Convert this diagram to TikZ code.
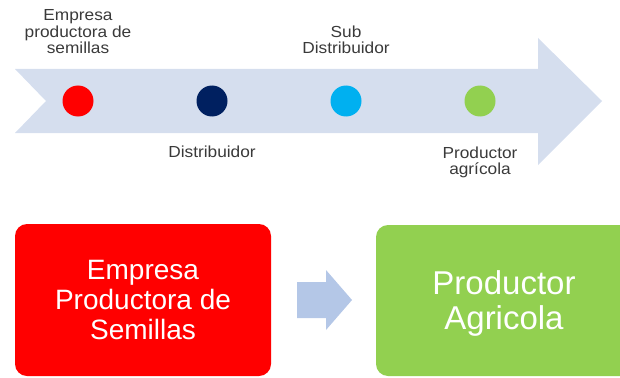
\documentclass[tikz,border=0pt]{standalone}
\usepackage{fontspec}
\setmainfont{Liberation Sans}
\newfontfamily\widesans[FakeStretch=1.08]{Liberation Sans}
\definecolor{bandcol}{HTML}{D5DEEE}
\definecolor{chevcol}{HTML}{B4C7E7}
\definecolor{redc}{HTML}{FF0000}
\definecolor{navyc}{HTML}{002060}
\definecolor{cyanc}{HTML}{00B0F0}
\definecolor{greenc}{HTML}{92D050}
\definecolor{labelc}{HTML}{3A3A3A}
\begin{document}
\begin{tikzpicture}[x=1pt,y=-1pt,
  dot/.style={circle,minimum size=31pt,inner sep=0pt,draw=none},
  toplabel/.style={anchor=north,inner sep=0pt,align=center,text=labelc,font=\widesans\fontsize{16}{16.5}\selectfont},
  bigbox/.style={rounded corners=12pt,draw=none,inner sep=0pt},
  boxtext/.style={anchor=north,inner sep=0pt,align=center,text=white}]
\useasboundingbox (0,0) rectangle (620,377);
\clip (0,0) rectangle (620,377);
% big arrow band
\fill[bandcol] (15,69) -- (538,69) -- (538,38) -- (602,101) -- (538,165) -- (538,133) -- (15,133) -- (46,101) -- cycle;
% dots
\node[dot,fill=redc] (d1) at (78,101) {};
\node[dot,fill=navyc] (d2) at (212,101) {};
\node[dot,fill=cyanc] (d3) at (346,101) {};
\node[dot,fill=greenc] (d4) at (480,101) {};
% labels
\node[toplabel] (l1) at (78,9.5) {Empresa\\productora de\\semillas};
\node[toplabel] (l2) at (212,145.5) {Distribuidor};
\node[toplabel] (l3) at (346,25.5) {Sub\\Distribuidor};
\node[toplabel] (l4) at (480,146.5) {Productor\\agrícola};
% bottom boxes
\node[bigbox,fill=redc,minimum width=256pt,minimum height=152pt] (b1) at (143,300) {};
\node[bigbox,fill=greenc,minimum width=264pt,minimum height=151pt] (b2) at (508,300.5) {};
\node[boxtext,font=\fontsize{28}{30}\selectfont] (t1) at (143,260) {Empresa\\Productora de\\Semillas};
\node[boxtext,font=\fontsize{33}{35}\selectfont] (t2) at (504,270) {Productor\\Agricola};
% chevron arrow
\fill[chevcol] (297,282) -- (326,282) -- (326,270) -- (352,300) -- (326,330) -- (326,318) -- (297,318) -- cycle;
\end{tikzpicture}
\end{document}
